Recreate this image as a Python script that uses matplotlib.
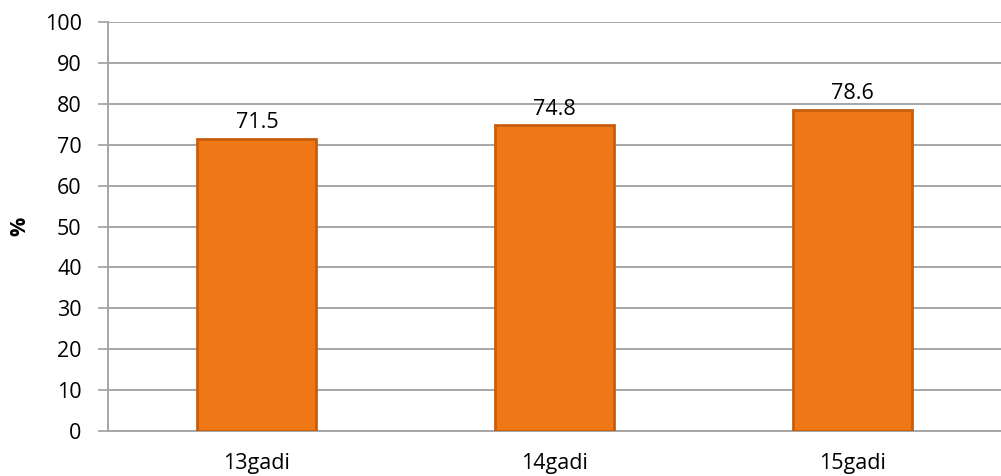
import matplotlib

matplotlib.use("Agg")
import matplotlib.pyplot as plt

categories = ["13gadi", "14gadi", "15gadi"]
values = [71.5, 74.8, 78.6]
value_labels = ["71.5", "74.8", "78.6"]
y_ticks = [0, 10, 20, 30, 40, 50, 60, 70, 80, 90, 100]

plt.rcParams["font.family"] = ["Open Sans", "DejaVu Sans"]
FS = 15.5

fig = plt.figure(figsize=(10.01, 4.76), dpi=100)
ax = fig.add_axes([0.108, 0.0945, 0.892, 0.8593])

grid_color = "#a6a6a6"
xs = range(len(categories))
ax.bar(xs, values, width=0.40, color="#f07716", edgecolor="#c65e0e",
       linewidth=2.0, zorder=3)

for x, v, lab in zip(xs, values, value_labels):
    ax.annotate(lab, (x, v), xytext=(0, 4), textcoords="offset points",
                ha="center", va="bottom", fontsize=FS, color="#000000", zorder=5)

ax.set_xlim(-0.5, len(categories) - 0.5)
ax.set_ylim(0, 100)
ax.set_yticks(y_ticks)
ax.set_xticks(list(xs))
ax.set_xticklabels(categories)
ax.tick_params(axis="y", direction="out", length=7, width=1.3, color=grid_color,
               labelsize=FS, pad=12)
ax.tick_params(axis="x", length=0, labelsize=FS, pad=16)
ax.yaxis.grid(True, color=grid_color, linewidth=1.4, zorder=0)
ax.set_axisbelow(True)
for side in ("top", "right"):
    ax.spines[side].set_visible(False)
for side in ("left", "bottom"):
    ax.spines[side].set_color(grid_color)
    ax.spines[side].set_linewidth(1.4)

ax.set_ylabel("%", fontsize=FS, fontweight="bold", labelpad=10)

fig.savefig("out.png", dpi=100)
